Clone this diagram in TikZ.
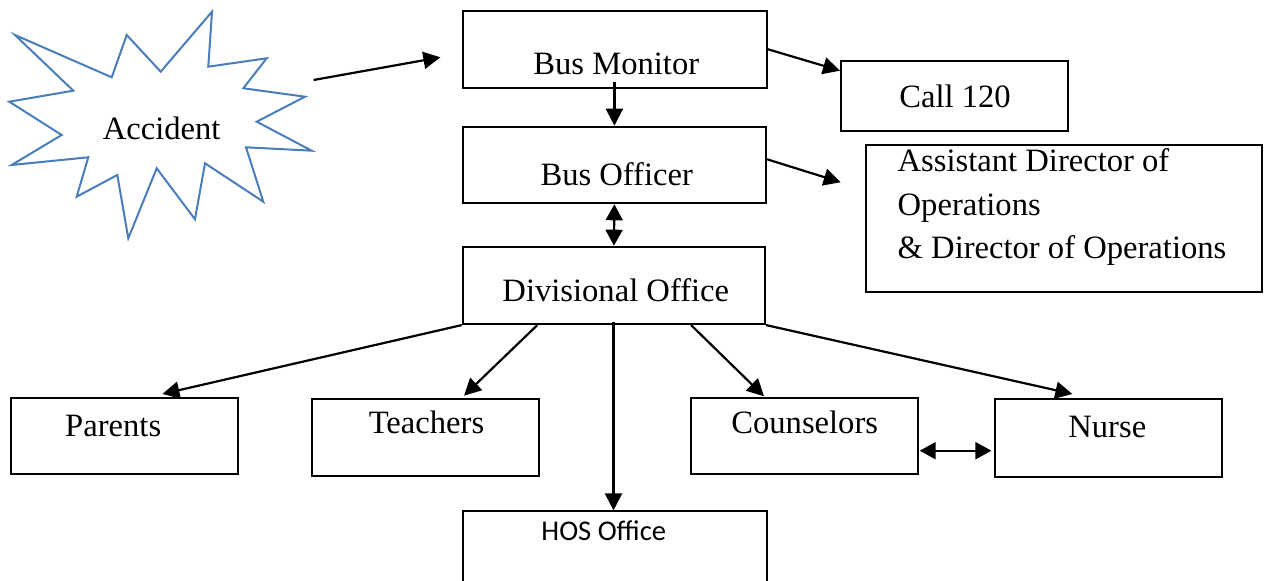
\documentclass[tikz,border=0pt]{standalone}
\usepackage{fontspec}
\setmainfont{Liberation Serif}
\newfontfamily\hosfont{Carlito}
\usetikzlibrary{arrows.meta,calc}
\definecolor{starblue}{RGB}{74,126,187}
\begin{document}
\begin{tikzpicture}[x=0.5pt,y=-0.5pt,
  box/.style={draw,line width=1pt,inner sep=0pt},
  txt/.style={inner sep=0pt,anchor=base,font=\fontsize{16.3}{20}\selectfont},
  txtl/.style={txt,anchor=base west},
  arr/.style={line width=1.1pt,-{Triangle[length=8.5pt,width=8.5pt]}},
  dbl/.style={line width=1.1pt,{Triangle[length=8pt,width=8.5pt]}-{Triangle[length=8pt,width=8.5pt]}}]
\useasboundingbox (0,0) rectangle (1274,581);
\clip (0,0) rectangle (1274,581);
% starburst
\draw[starblue,line width=1pt,line join=miter]
  (15,35) -- (111.7,77.3) -- (126.7,35) -- (160.7,71.7) -- (212,11.7) -- (208.3,66.7)
  -- (266.7,58.3) -- (243.3,88.3) -- (305,96.7) -- (256.7,121.7) -- (311.7,150.7)
  -- (246,147.3) -- (263.3,201.7) -- (205,163.3) -- (195,219.3) -- (156.7,168.3)
  -- (128.3,238.3) -- (117.3,175) -- (76.7,196.7) -- (88.3,157.3) -- (11.7,165)
  -- (61.7,135) -- (9.3,101.7) -- (73.3,90.7) -- cycle;
\node[txt] (acc) at (161.7,139.3) {Accident};
% boxes
\node[box,minimum width=151.7pt,minimum height=38.5pt] (bm) at (615,49.2) {};
\node[box,minimum width=113.7pt,minimum height=35pt] (call) at (954.7,95.7) {};
\node[box,minimum width=151.7pt,minimum height=38.3pt] (bo) at (614.4,165) {};
\node[box,minimum width=198.3pt,minimum height=73.7pt] (asst) at (1064,218.7) {};
\node[box,minimum width=151.2pt,minimum height=38.7pt] (div) at (613.9,285.4) {};
\node[box,minimum width=113.3pt,minimum height=38pt] (par) at (124.4,436) {};
\node[box,minimum width=113.5pt,minimum height=38.2pt] (tea) at (425.8,437.5) {};
\node[box,minimum width=113.5pt,minimum height=38pt] (cou) at (804.2,436) {};
\node[box,minimum width=113.3pt,minimum height=38.7pt] (nur) at (1108.4,438) {};
\node[box,minimum width=152pt,minimum height=44.3pt] (hos) at (615.3,555.7) {};
% texts
\node[txt] (tbm) at (616.3,75) {Bus Monitor};
\node[txt] (tcall) at (955,107.3) {Call 120};
\node[txt] (tbo) at (616.7,185.7) {Bus Officer};
\node[txtl] (ta1) at (897.3,171.7) {Assistant Director of};
\node[txtl] (ta2) at (897.3,216) {Operations};
\node[txtl] (ta3) at (897.3,258.7) {\& Director of Operations};
\node[txt] (tdiv) at (615.8,301.7) {Divisional Office};
\node[txt] (tpar) at (113.2,436.7) {Parents};
\node[txt] (ttea) at (426.5,433.5) {Teachers};
\node[txt] (tcou) at (804.7,433.3) {Counselors};
\node[txt] (tnur) at (1107.3,437.7) {Nurse};
\node[txt,font=\hosfont\fontsize{14.3}{17}\selectfont] (thos) at (603.8,540.7) {HOS Office};
% connectors
\coordinate (accOut) at (313.6,80);
\coordinate (bmIn) at (440.4,57.3);
\draw[arr] (accOut) -- (bmIn);
\draw[arr] (bm.east) -- ($(call.north west)+(0,11)$);
\draw[arr] ($(bm.south)+(-0.6,-7)$) -- ($(bo.north)+(0,0)$);
\draw[arr] ($(bo.east)+(0,-5.7)$) -- ($(asst.north west)+(-24,38.3)$);
\draw[dbl] (bo.south) -- (div.north);
\draw[arr] (div.south west) -- ($(par.north west)+(152.3,-3)$);
\draw[arr] ($(div.south west)+(75.6,0)$) -- ($(tea.north west)+(152.7,-2.6)$);
\draw[arr] ($(div.south)+(-0.4,-3)$) -- ($(hos.north)+(-1.8,0)$);
\draw[arr] ($(div.south east)+(-75,0)$) -- ($(cou.north west)+(74.3,-0.7)$);
\draw[arr] (div.south east) -- ($(nur.north west)+(78.3,-4.3)$);
\draw[dbl] ($(cou.east)+(1,14.7)$) -- ($(nur.west)+(-2.7,12.7)$);
\end{tikzpicture}
\end{document}
